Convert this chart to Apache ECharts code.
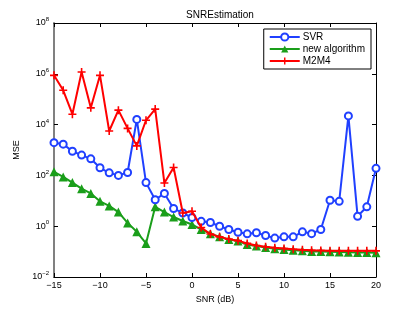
<!DOCTYPE html>
<html><head><meta charset="utf-8">
<script src="https://cdn.jsdelivr.net/npm/echarts@6/dist/echarts.min.js"></script>
<style>html,body{margin:0;padding:0;background:#fff}#c{width:415px;height:312px}</style>
</head><body><div id="c"></div>
<script>
const snr = [-15,-14,-13,-12,-11,-10,-9,-8,-7,-6,-5,-4,-3,-2,-1,0,1,2,3,4,5,6,7,8,9,10,11,12,13,14,15,16,17,18,19,20];
const svr = [1950,1700,890,630,450,200,126,100,130,16000,52,11,19.5,5,3.3,2.2,1.55,1.4,1.0,0.74,0.58,0.5,0.55,0.43,0.34,0.38,0.38,0.6,0.51,0.74,10.5,9.5,22000,2.45,5.8,190];
const newAlg = [138,87,52,30,19.5,9.5,6.3,3.6,1.35,0.6,0.21,5.8,3.6,2.3,1.6,1.17,0.74,0.51,0.38,0.3,0.26,0.19,0.166,0.145,0.129,0.12,0.112,0.107,0.102,0.1,0.098,0.096,0.094,0.093,0.092,0.09];
const m2m4 = [870000,224000,25700,1170000,45700,870000,5600,37000,7100,1450,14800,40700,50,204,3.3,3.9,0.89,0.49,0.38,0.31,0.27,0.21,0.174,0.155,0.141,0.132,0.123,0.117,0.112,0.11,0.108,0.107,0.107,0.107,0.107,0.107];
const seriesNames = ['SVR','new algorithm','M2M4'];
const xTicks = {min:-15,max:20,step:5};
const yTicks = {min:0.01,max:1e8};

const F = 'Liberation Sans, Arial, sans-serif';
const pair = (arr) => snr.map((x,i)=>[x,arr[i]]);
const chart = echarts.init(document.getElementById('c'));
const plusPath = 'path://M4,0h2v4h4v2h-4v4h-2v-4h-4v-2h4z';
const yFmt = v => {
  const e = Math.round(Math.log10(v));
  return '{b|10}{s|' + String(e).replace('-','\u2212') + '}';
};
chart.setOption({
  animation:false,
  title:{text:'SNREstimation',left:215,top:5,textAlign:'center',textStyle:{fontFamily:F,fontSize:10,fontWeight:'normal',color:'#000'}},
  legend:{
    right:44,top:29,orient:'vertical',itemGap:2,itemWidth:30,itemHeight:9,
    backgroundColor:'#fff',borderColor:'#000',borderWidth:1,padding:[3,6,3,5],
    textStyle:{fontFamily:F,fontSize:10,color:'#000',padding:[0,0,0,-2]},
    data:seriesNames
  },
  grid:{left:54,right:39,top:23,bottom:35},
  xAxis:[{
    type:'value',min:xTicks.min,max:xTicks.max,interval:xTicks.step,
    name:'SNR (dB)',nameLocation:'middle',nameGap:17,
    nameTextStyle:{fontFamily:F,fontSize:9,color:'#000'},
    axisLine:{onZero:false,lineStyle:{color:'#000',width:1}},
    axisTick:{inside:true,length:4,lineStyle:{color:'#000'}},
    axisLabel:{fontFamily:F,fontSize:9,color:'#000',margin:4,formatter:v=>String(v).replace('-','\u2212')},
    splitLine:{show:false}
  },{
    type:'value',position:'top',min:xTicks.min,max:xTicks.max,interval:xTicks.step,
    axisLine:{onZero:false,lineStyle:{color:'#000',width:1}},
    axisTick:{inside:true,length:4,lineStyle:{color:'#000'}},
    axisLabel:{show:false},splitLine:{show:false}
  }],
  yAxis:[{
    type:'log',logBase:10,min:yTicks.min,max:yTicks.max,interval:2,
    name:'MSE',nameLocation:'middle',nameGap:32,
    nameTextStyle:{fontFamily:F,fontSize:9,color:'#000'},
    axisLine:{onZero:false,lineStyle:{color:'#808080',width:2}},
    axisTick:{inside:true,length:4,lineStyle:{color:'#000'}},
    axisLabel:{fontFamily:F,color:'#000',margin:5,formatter:yFmt,
      rich:{b:{fontFamily:F,fontSize:9,color:'#000'},s:{fontFamily:F,fontSize:6,color:'#000',verticalAlign:'top',padding:[0,0,7,0]}}},
    splitLine:{show:false},minorTick:{show:false}
  },{
    type:'log',logBase:10,position:'right',min:yTicks.min,max:yTicks.max,interval:2,
    axisLine:{onZero:false,lineStyle:{color:'#000',width:1}},
    axisTick:{inside:true,length:4,lineStyle:{color:'#000'}},
    axisLabel:{show:false},splitLine:{show:false}
  }],
  series:[
    {name:seriesNames[0],type:'line',data:pair(svr),symbol:'emptyCircle',symbolSize:7,
      lineStyle:{color:'#2040ff',width:2},itemStyle:{color:'#2040ff',borderWidth:2},z:3},
    {name:seriesNames[1],type:'line',data:pair(newAlg),symbol:'triangle',symbolSize:9,
      lineStyle:{color:'#1a9e1a',width:2},itemStyle:{color:'#1a9e1a'},z:2},
    {name:seriesNames[2],type:'line',data:pair(m2m4),symbol:plusPath,symbolSize:8,
      lineStyle:{color:'#ff0000',width:2},itemStyle:{color:'#ff0000'},z:4}
  ]
});
</script></body></html>
